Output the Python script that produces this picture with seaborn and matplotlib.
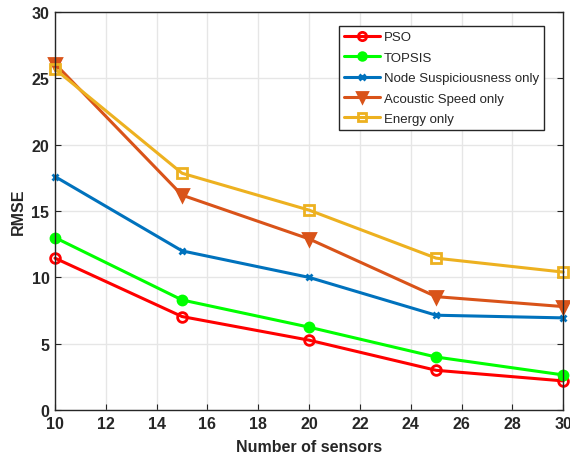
import matplotlib
matplotlib.use("Agg")
import matplotlib.pyplot as plt
import seaborn as sns
import pandas as pd
from matplotlib.lines import Line2D

sensors = [10, 15, 20, 25, 30]
pso = [11.45, 7.05, 5.27, 3.0, 2.2]
topsis = [13.0, 8.3, 6.25, 4.0, 2.65]
node_susp = [17.6, 12.0, 10.0, 7.15, 6.95]
acoustic = [26.1, 16.2, 12.9, 8.55, 7.8]
energy = [25.7, 17.85, 15.07, 11.45, 10.4]

names = ["PSO", "TOPSIS", "Node Suspiciousness only", "Acoustic Speed only", "Energy only"]
series = [pso, topsis, node_susp, acoustic, energy]
colors = ["#ff0000", "#00ff00", "#0072bd", "#d95319", "#edb120"]
markers = ["o", "o", "X", "v", "s"]
final_markers = ["o", "o", "x", "v", "s"]
filled = [False, True, True, True, False]
msizes = [7, 6.5, 5, 8.5, 7]

rows = []
for n, s in zip(names, series):
    for x, y in zip(sensors, s):
        rows.append({"Number of sensors": x, "RMSE": y, "Method": n})
df = pd.DataFrame(rows)

sns.set_style("whitegrid")
plt.rcParams["font.family"] = ["Liberation Sans", "DejaVu Sans"]

fig = plt.figure(figsize=(5.7, 4.64), dpi=100)
ax = fig.add_axes([0.0965, 0.114, 0.8915, 0.858])

sns.lineplot(data=df, x="Number of sensors", y="RMSE", hue="Method",
             hue_order=names, palette=dict(zip(names, colors)),
             style="Method", style_order=names, markers=dict(zip(names, markers)),
             dashes=False, linewidth=2.2, markersize=7, ax=ax, legend=False)

for line, c, f, m, ms in zip(ax.get_lines(), colors, filled, final_markers, msizes):
    line.set_marker(m)
    line.set_markersize(ms)
    line.set_markeredgecolor(c)
    line.set_markeredgewidth(2)
    line.set_markerfacecolor(c if f else "none")
    line.set_clip_on(False)

ax.set_xlim(10, 30)
ax.set_ylim(0, 30)
ax.set_xticks(range(10, 31, 2))
ax.set_yticks(range(0, 31, 5))
ax.grid(True, color="#e6e6e6", linewidth=1)
for sp in ax.spines.values():
    sp.set_visible(True)
    sp.set_color("#262626")
    sp.set_linewidth(1)
ax.tick_params(direction="in", length=4, color="#262626", labelsize=11.5, pad=4,
               top=False, right=True, bottom=True, left=True)
for lab in ax.get_xticklabels() + ax.get_yticklabels():
    lab.set_fontweight("bold")
ax.set_xlabel("Number of sensors", fontsize=11.5, fontweight="bold", labelpad=6)
ax.set_ylabel("RMSE", fontsize=11.5, fontweight="bold", labelpad=4)

handles = []
for n, c, m, f, ms in zip(names, colors, final_markers, filled, msizes):
    handles.append(Line2D([0], [0], color=c, marker=m, linewidth=2.2, markersize=ms * 0.85,
                          markeredgewidth=2, markeredgecolor=c,
                          markerfacecolor=c if f else "none", label=n))
leg = ax.legend(handles=handles, loc="upper right", bbox_to_anchor=(0.955, 0.942),
                bbox_transform=fig.transFigure, fontsize=9.5, frameon=True,
                fancybox=False, edgecolor="#262626", framealpha=1,
                handlelength=2.7, handletextpad=0.3, borderpad=0.4, labelspacing=0.62,
                borderaxespad=0)
leg.get_frame().set_linewidth(1)

fig.savefig("out.png", dpi=100)
